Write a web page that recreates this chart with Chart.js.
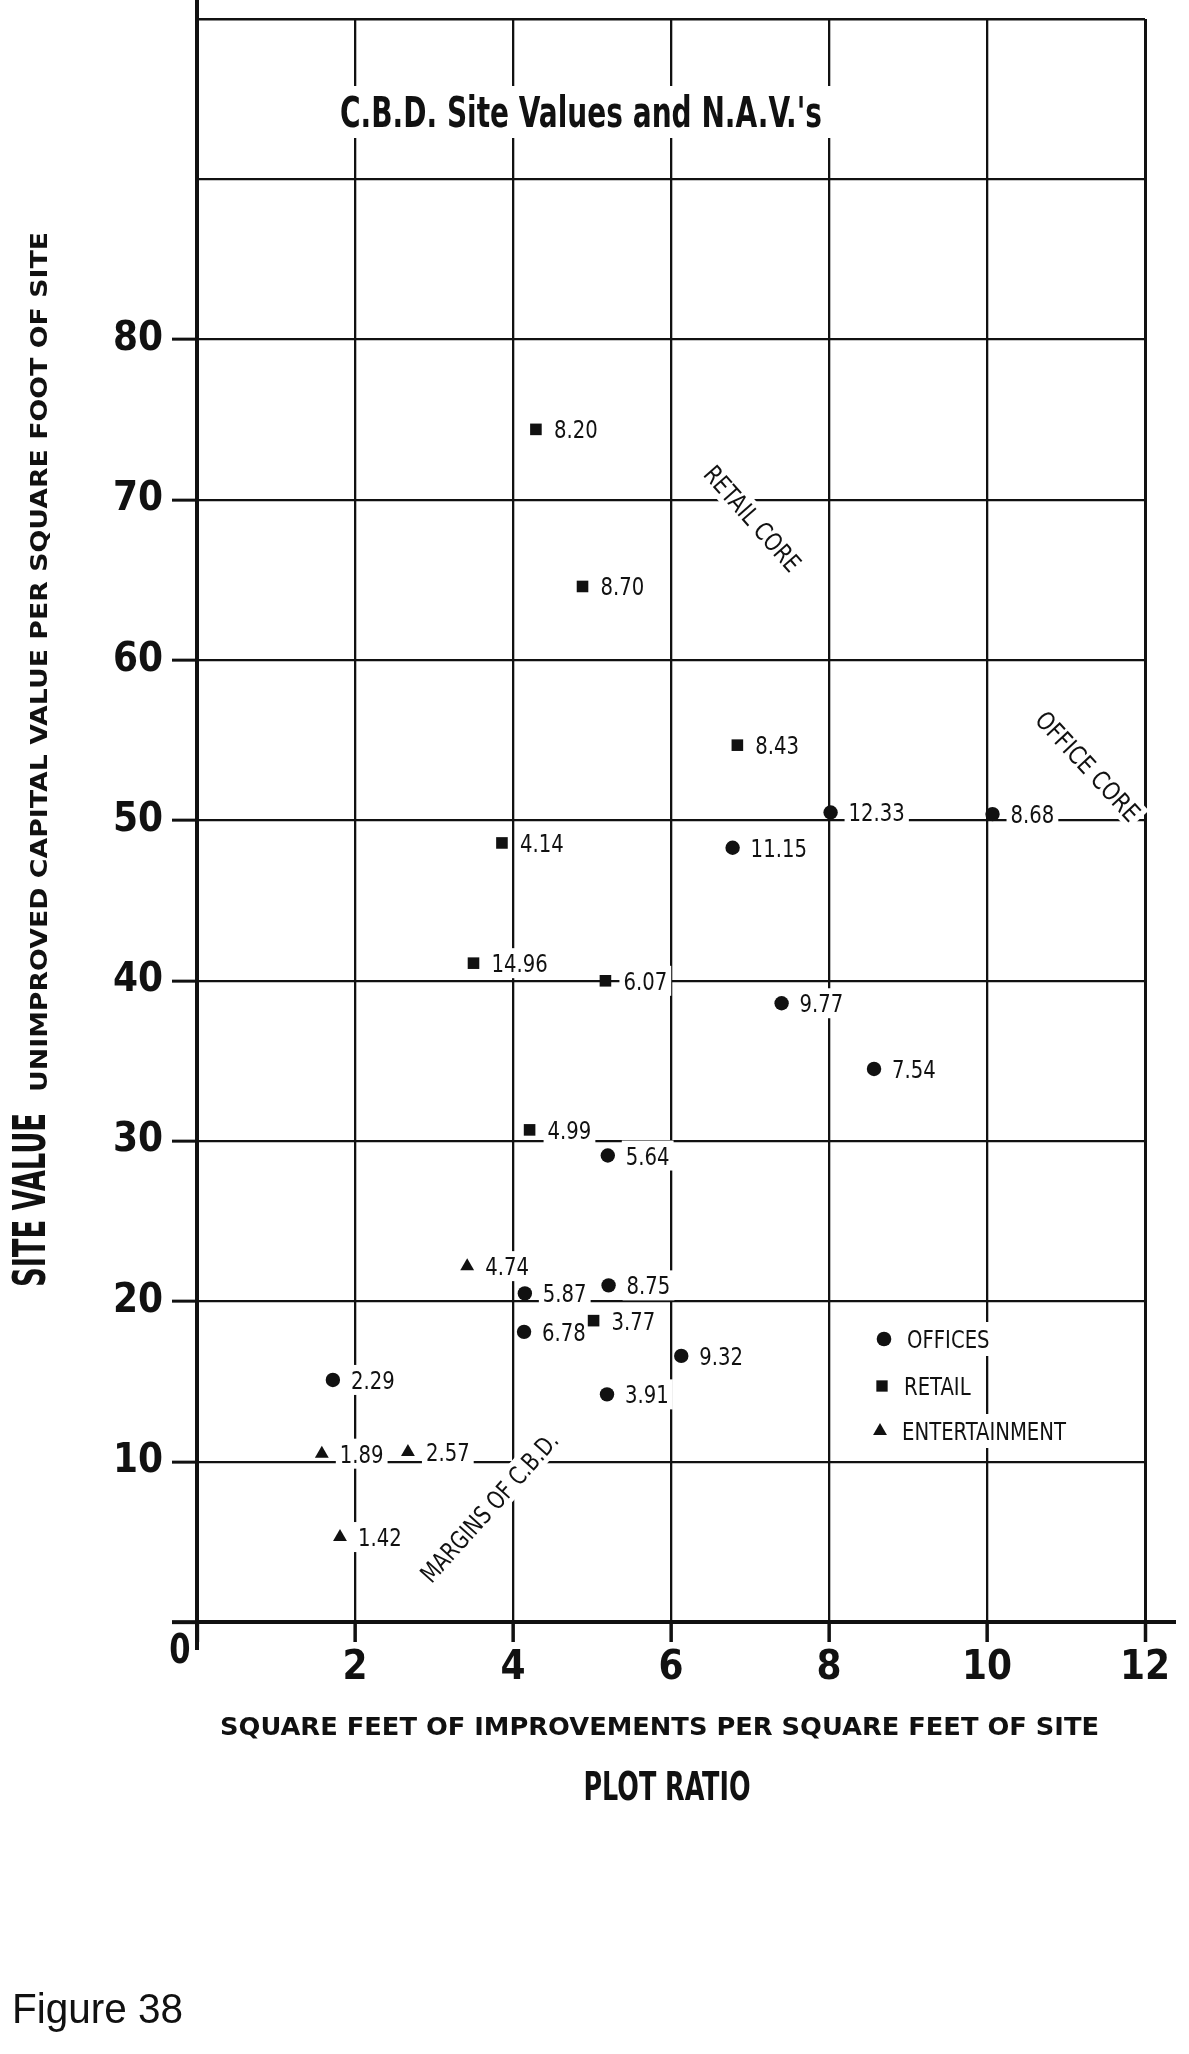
<!DOCTYPE html>
<html>
<head>
<meta charset="utf-8">
<script src="https://cdn.jsdelivr.net/npm/chart.js@4.4.1/dist/chart.umd.min.js"></script>
<style>
  html, body { margin: 0; padding: 0; background: #ffffff; }
  #wrap { width: 1189px; height: 2054px; position: relative; background: #ffffff; }
  canvas { display: block; }
</style>
</head>
<body>
<div id="wrap"><canvas id="c" width="1189" height="2054"></canvas></div>
<script>
// ---------------- DATA ----------------
const xTickValues = [0, 2, 4, 6, 8, 10, 12];
const yTickValues = [10, 20, 30, 40, 50, 60, 70, 80];

const seriesNames = ['OFFICES', 'RETAIL', 'ENTERTAINMENT'];

// Offices (circles): plot ratio, site value, N.A.V. label
const officesX   = [8.02, 10.07, 6.78, 7.40, 8.57, 5.20, 5.21, 4.15, 4.14, 6.13, 5.19, 1.72];
const officesY   = [50.5, 50.4, 48.3, 38.6, 34.5, 29.1, 21.0, 20.5, 18.1, 16.6, 14.2, 15.1];
const officesNAV = ['12.33', '8.68', '11.15', '9.77', '7.54', '5.64', '8.75', '5.87', '6.78', '9.32', '3.91', '2.29'];

// Retail (squares)
const retailX   = [4.29, 4.88, 6.84, 3.86, 3.50, 5.17, 4.21, 5.02];
const retailY   = [74.4, 64.6, 54.7, 48.6, 41.1, 40.0, 30.7, 18.8];
const retailNAV = ['8.20', '8.70', '8.43', '4.14', '14.96', '6.07', '4.99', '3.77'];

// Entertainment (triangles)
const entX   = [3.42, 1.58, 2.67, 1.81];
const entY   = [22.2, 10.5, 10.6, 5.3];
const entNAV = ['4.74', '1.89', '2.57', '1.42'];

const chartTitle = "C.B.D. Site Values and N.A.V.'s";
const yTitleMain = 'SITE VALUE';
const yTitleSub = 'UNIMPROVED CAPITAL VALUE PER SQUARE FOOT OF SITE';
const xTitleSub = 'SQUARE FEET OF IMPROVEMENTS PER SQUARE FEET OF SITE';
const xTitleMain = 'PLOT RATIO';
const zoneLabels = ['RETAIL CORE', 'OFFICE CORE', 'MARGINS OF C.B.D.'];
const figureCaption = 'Figure 38';

// ---------------- STYLE ----------------
const INK = '#111111';
const NARROW = "'Liberation Sans Narrow', 'DejaVu Sans Condensed', 'Noto Sans', sans-serif";
const WIDE = "'DejaVu Sans', 'Open Sans', sans-serif";
const PLAIN = "'Liberation Sans', 'Noto Sans', sans-serif";

function pts(xs, ys) { return xs.map((x, i) => ({ x: x, y: ys[i] })); }
const navLabels = [officesNAV, retailNAV, entNAV];

function drawFit(ctx, text, x, y, o) {
  ctx.save();
  ctx.font = o.font;
  ctx.textAlign = 'left';
  ctx.textBaseline = 'alphabetic';
  ctx.translate(x, y);
  if (o.rot) ctx.rotate(o.rot);
  const w = ctx.measureText(text).width;
  const sx = o.width ? o.width / w : (o.sx || 1);
  const W = w * sx;
  const x0 = o.align === 'left' ? 0 : (o.align === 'right' ? -W : -W / 2);
  const capH = o.capH;
  if (o.bg) {
    ctx.fillStyle = '#ffffff';
    ctx.fillRect(x0 - o.bg[0], -capH / 2 - o.bg[1], W + 2 * o.bg[0], capH + 2 * o.bg[1]);
  }
  ctx.translate(x0, capH / 2);
  ctx.scale(sx, 1);
  ctx.fillStyle = INK;
  ctx.fillText(text, 0, 0);
  ctx.restore();
}

function drawMarker(ctx, style, r, x, y) {
  ctx.save();
  ctx.fillStyle = INK;
  if (window.Chart && Chart.helpers && Chart.helpers.drawPoint) {
    Chart.helpers.drawPoint(ctx, { pointStyle: style, radius: r, rotation: 0, borderWidth: 0 }, x, y);
  } else {
    ctx.beginPath();
    if (style === 'circle') ctx.arc(x, y, r, 0, Math.PI * 2);
    else if (style === 'rect') { const s = r * Math.SQRT1_2; ctx.rect(x - s, y - s, 2 * s, 2 * s); }
    else { ctx.moveTo(x, y - r); ctx.lineTo(x + r * 0.866, y + r / 2); ctx.lineTo(x - r * 0.866, y + r / 2); ctx.closePath(); }
    ctx.fill();
  }
  ctx.restore();
}

const smallFont = '25px ' + NARROW;
let smallSX = 0.9;

const decor = {
  id: 'decor',
  beforeDatasetsDraw(chart) {
    const ctx = chart.ctx;
    const a = chart.chartArea;

    ctx.save();
    ctx.font = smallFont;
    smallSX = 164 / ctx.measureText('ENTERTAINMENT').width;
    ctx.restore();

    // axis line extensions
    ctx.save();
    ctx.strokeStyle = INK;
    ctx.lineWidth = 4;
    ctx.beginPath();
    ctx.moveTo(a.left, 0); ctx.lineTo(a.left, a.top);
    ctx.moveTo(a.left, a.bottom); ctx.lineTo(a.left, a.bottom + 28);
    ctx.moveTo(a.right, a.bottom); ctx.lineTo(a.right + 31, a.bottom);
    ctx.stroke();
    ctx.restore();

    // chart title inside the top band
    drawFit(ctx, chartTitle, 581, 112, { font: 'bold 42px ' + NARROW, width: 482, capH: 30, bg: [10, 11] });

    // origin label
    drawFit(ctx, '0', 180, 1648, { font: 'bold 40px ' + NARROW, sx: 0.85, capH: 29 });

    // axis titles
    drawFit(ctx, yTitleMain, 29, 1200, { font: 'bold 44px ' + NARROW, width: 174, capH: 32, rot: -Math.PI / 2 });
    drawFit(ctx, yTitleSub, 38.5, 662, { font: 'bold 23px ' + WIDE, width: 860, capH: 17, rot: -Math.PI / 2 });
    drawFit(ctx, xTitleSub, 659.5, 1726, { font: 'bold 24px ' + WIDE, width: 879, capH: 18 });
    drawFit(ctx, xTitleMain, 667, 1786, { font: 'bold 39px ' + NARROW, width: 167, capH: 28 });

    // figure caption
    drawFit(ctx, figureCaption, 12, 2008, { font: '42px ' + PLAIN, width: 171, capH: 30, align: 'left' });

    // zone annotations
    const deg = Math.PI / 180;
    drawFit(ctx, zoneLabels[0], 752.7, 518.5, { font: smallFont, width: 132, capH: 18, rot: 48.5 * deg, bg: [4, 5] });
    drawFit(ctx, zoneLabels[1], 1088, 766, { font: smallFont, width: 140, capH: 18, rot: 47 * deg, bg: [4, 5] });
    drawFit(ctx, zoneLabels[2], 489, 1507, { font: smallFont, width: 192, capH: 18, rot: -48 * deg, bg: [4, 5] });

    // legend
    const legendStyles = ['circle', 'rect', 'triangle'];
    const legendR = [7.3, 8, 8];
    const legendPos = [[884, 1339, 907], [882, 1386, 904], [880, 1431, 902]];
    seriesNames.forEach((name, i) => {
      drawFit(ctx, name, legendPos[i][2], legendPos[i][1], { font: smallFont, sx: smallSX, capH: 18, align: 'left', bg: [4, 8] });
      drawMarker(ctx, legendStyles[i], legendR[i], legendPos[i][0], legendPos[i][1]);
    });

    // N.A.V. point labels
    chart.data.datasets.forEach((ds, di) => {
      const meta = chart.getDatasetMeta(di);
      meta.data.forEach((pt, i) => {
        drawFit(ctx, navLabels[di][i], pt.x + 18, pt.y, { font: smallFont, sx: smallSX, capH: 18, align: 'left', bg: [4, 6] });
      });
    });
  }
};

const ctx = document.getElementById('c').getContext('2d');
new Chart(ctx, {
  type: 'scatter',
  data: {
    datasets: [
      { label: seriesNames[0], data: pts(officesX, officesY), pointStyle: 'circle', pointRadius: 7.2,
        backgroundColor: INK, borderColor: INK, borderWidth: 0 },
      { label: seriesNames[1], data: pts(retailX, retailY), pointStyle: 'rect', pointRadius: 8.2,
        backgroundColor: INK, borderColor: INK, borderWidth: 0 },
      { label: seriesNames[2], data: pts(entX, entY), pointStyle: 'triangle', pointRadius: 8,
        backgroundColor: INK, borderColor: INK, borderWidth: 0 }
    ]
  },
  options: {
    responsive: false,
    animation: false,
    devicePixelRatio: 1,
    events: [],
    layout: { padding: { top: 19, right: 44, bottom: 0, left: 0 }, autoPadding: false },
    plugins: { legend: { display: false }, tooltip: { enabled: false }, title: { display: false } },
    scales: {
      x: {
        type: 'linear', min: 0, max: 12,
        afterBuildTicks: (s) => { s.ticks = xTickValues.map(v => ({ value: v })); },
        ticks: {
          callback: (v) => (v === 0 ? '' : String(v)),
          color: INK, padding: 3, maxRotation: 0, autoSkip: false,
          font: { family: NARROW, size: 40, weight: 'bold' }
        },
        grid: {
          color: INK,
          lineWidth: (c) => (c.tick && c.tick.value === 12 ? 3 : 2.3),
          tickLength: 20,
          tickColor: INK,
          tickWidth: (c) => (c.tick && c.tick.value === 0 ? 4 : 3.5)
        },
        border: { display: true, color: INK, width: 4 },
        afterFit: (s) => { s.height = 432; s.paddingLeft = 0; s.paddingRight = 0; }
      },
      y: {
        type: 'linear', min: 0, max: 100,
        afterBuildTicks: (s) => { s.ticks = [0].concat(yTickValues, [90, 100]).map(v => ({ value: v })); },
        ticks: {
          callback: (v) => (yTickValues.includes(v) ? String(v) : ''),
          color: INK, padding: 9, autoSkip: false,
          font: { family: NARROW, size: 40, weight: 'bold' }
        },
        grid: {
          color: INK,
          lineWidth: (c) => (c.tick && c.tick.value === 100 ? 2.6 : 2.3),
          tickLength: 25,
          tickColor: (c) => (c.tick && c.tick.value >= 90 ? 'rgba(0,0,0,0)' : INK),
          tickWidth: (c) => (c.tick && c.tick.value === 0 ? 4 : 3)
        },
        border: { display: true, color: INK, width: 4 },
        afterFit: (s) => { s.width = 197; s.paddingTop = 0; s.paddingBottom = 0; }
      }
    }
  },
  plugins: [decor]
});
</script>
</body>
</html>
